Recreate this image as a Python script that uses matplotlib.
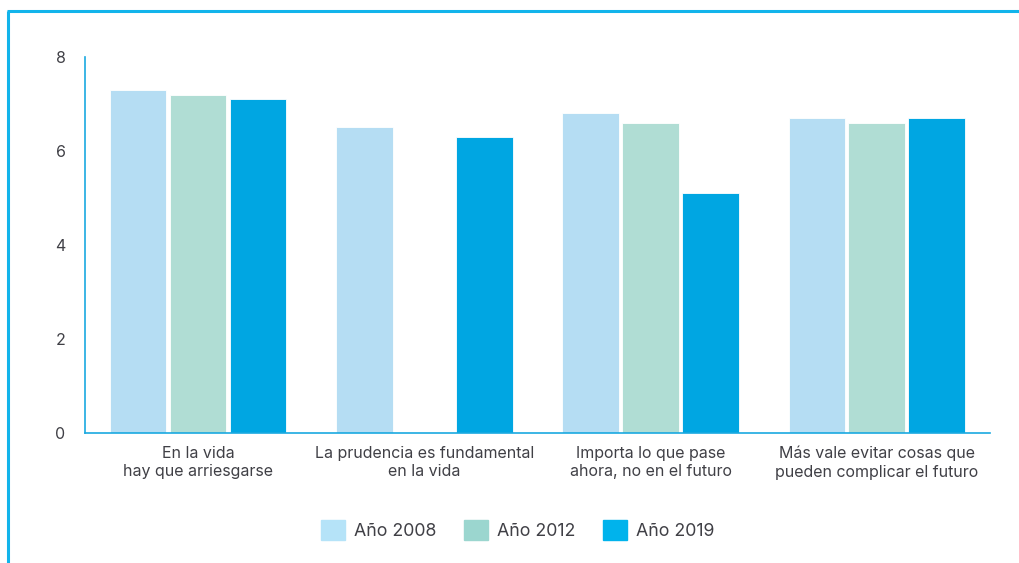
import matplotlib.pyplot as plt
import numpy as np
from matplotlib.lines import Line2D

# Data
categories = ["En la vida\nhay que arriesgarse",
              "La prudencia es fundamental\nen la vida",
              "Importa lo que pase\nahora, no en el futuro",
              "Más vale evitar cosas que\npueden complicar el futuro"]
series_names = ["Año 2008", "Año 2012", "Año 2019"]
values_2008 = [7.3, 6.5, 6.8, 6.7]
values_2012 = [7.2, np.nan, 6.6, 6.6]
values_2019 = [7.1, 6.3, 5.1, 6.7]
yticks = [0, 2, 4, 6, 8]

colors = ["#b5ddf3", "#b0ddd4", "#00a6e2"]
text_color = "#404046"
plt.rcParams['font.family'] = ['Inter', 'DejaVu Sans']

fig = plt.figure(figsize=(10.19, 5.63), dpi=100)
ax = fig.add_axes([0.0834, 0.2309, 0.888, 0.668])

x = np.arange(len(categories))
step = 0.265
width = 0.25
for i, vals in enumerate([values_2008, values_2012, values_2019]):
    ax.bar(x + (i - 1) * step, vals, width=width, color=colors[i],
           edgecolor="white", linewidth=0.6, label=series_names[i], zorder=2)

ax.set_xlim(-0.5, 3.5)
ax.set_ylim(0, 8)
ax.set_yticks(yticks)
ax.set_xticks(x)
ax.set_xticklabels(categories, fontsize=11.8, color=text_color, linespacing=1.3)
ax.tick_params(axis='both', length=0, labelsize=11.5, labelcolor=text_color)
ax.tick_params(axis='y', pad=14)
ax.tick_params(axis='x', pad=9)

for side in ['top', 'right']:
    ax.spines[side].set_visible(False)
for side in ['left', 'bottom']:
    ax.spines[side].set_color("#1aa9e0")
    ax.spines[side].set_linewidth(1.2)

# Legend with square patches
handles = [plt.Rectangle((0, 0), 1, 1, color=c) for c in ["#b5e3f8", "#9bd6cf", "#00b3ec"]]
fig.legend(handles, series_names, loc='center', bbox_to_anchor=(0.508, 0.058),
           ncol=3, frameon=False, fontsize=12.8, handlelength=1.35, handleheight=1.35,
           columnspacing=1.57, handletextpad=0.5, labelcolor=text_color)

# Cyan frame on the left and top
frame_color = "#12b4eb"
fig.add_artist(Line2D([8 / 1019, 8 / 1019], [0, 1 - 11 / 563], transform=fig.transFigure,
                      color=frame_color, linewidth=2.2, solid_capstyle='butt'))
fig.add_artist(Line2D([7 / 1019, 1], [1 - 11 / 563, 1 - 11 / 563], transform=fig.transFigure,
                      color=frame_color, linewidth=2.2, solid_capstyle='butt'))

fig.savefig("out.png", dpi=100)
